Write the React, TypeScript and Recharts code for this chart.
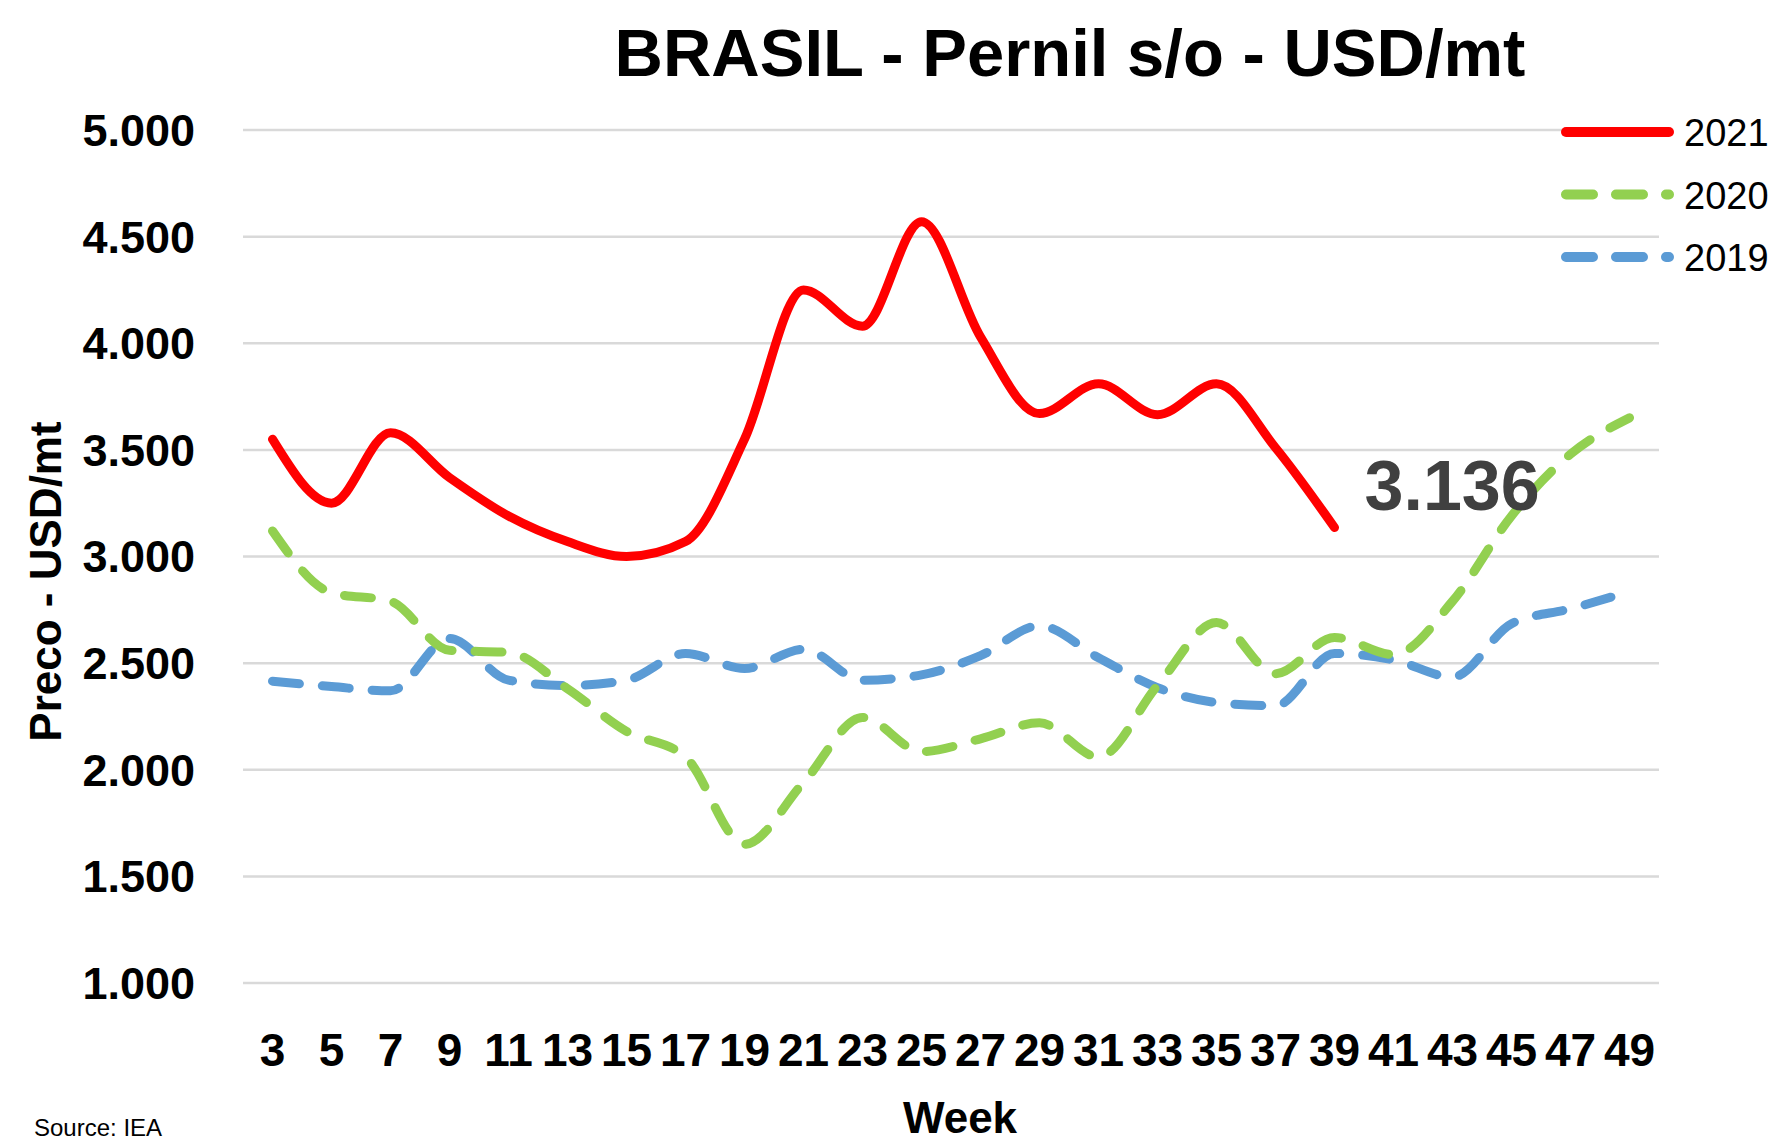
import { LineChart, Line, XAxis, YAxis, CartesianGrid, Label } from 'recharts'

const weeks = ['3', '5', '7', '9', '11', '13', '15', '17', '19', '21', '23', '25', '27', '29', '31', '33', '35', '37', '39', '41', '43', '45', '47', '49']

const y2021 = [3550, 3250, 3580, 3370, 3190, 3070, 3000, 3070, 3550, 4250, 4080, 4570, 4030, 3670, 3810, 3665, 3810, 3510, 3136]
const y2020 = [3120, 2830, 2790, 2560, 2550, 2380, 2180, 2060, 1650, 1940, 2245, 2085, 2145, 2220, 2060, 2395, 2690, 2450, 2620, 2540, 2790, 3190, 3480, 3650]
const y2019 = [2415, 2390, 2370, 2615, 2420, 2395, 2420, 2545, 2475, 2565, 2420, 2445, 2535, 2675, 2525, 2385, 2315, 2300, 2545, 2515, 2435, 2685, 2755, 2835]

const yTicks = [1000, 1500, 2000, 2500, 3000, 3500, 4000, 4500, 5000]

const series = [
    { key: 'y2021', name: '2021', color: '#FF0000', dash: undefined },
    { key: 'y2020', name: '2020', color: '#92D050', dash: '27 23' },
    { key: 'y2019', name: '2019', color: '#5B9BD5', dash: '27 23' },
]

const FONT = "'Liberation Sans', Arial, sans-serif"

const data = weeks.map((w, i) => ({
    week: w,
    y2021: i < y2021.length ? y2021[i] : null,
    y2020: y2020[i],
    y2019: y2019[i],
}))

const fmt = (v: number) => `${Math.floor(v / 1000)}.${String(v % 1000).padStart(3, '0')}`

// last value of 2021 written next to the end of the line
const lastLabel = (props: any) => {
    if (props.index !== y2021.length - 1) return null
    return (
        <text x={props.x + 30} y={props.y - 17} fontFamily={FONT} fontWeight="bold" fontSize={70} fill="#404040">
            {fmt(props.value)}
        </text>
    )
}

export default function App() {
    return (
        <div style={{ position: 'absolute', left: 0, top: 0, width: 1776, height: 1139, overflow: 'hidden', background: '#fff' }}>
            <LineChart
                width={1776}
                height={1139}
                data={data}
                margin={{ top: 130, right: 117, bottom: 56, left: 0 }}
            >
                <CartesianGrid vertical={false} stroke="#D9D9D9" strokeWidth={2.5} />
                <XAxis
                    dataKey="week"
                    interval={0}
                    height={100}
                    padding={{ left: 29.5, right: 29.5 }}
                    axisLine={false}
                    tickLine={false}
                    tickSize={0}
                    tickMargin={50}
                    tick={{ fill: '#000', fontSize: 46, fontWeight: 'bold', fontFamily: FONT }}
                >
                    <Label
                        content={(p: any) => (
                            <text
                                x={p.viewBox.x + p.viewBox.width / 2 + 9}
                                y={1133}
                                textAnchor="middle"
                                fontFamily={FONT}
                                fontWeight="bold"
                                fontSize={44}
                                fill="#000"
                            >
                                Week
                            </text>
                        )}
                    />
                </XAxis>
                <YAxis
                    width={243}
                    domain={[1000, 5000]}
                    ticks={yTicks}
                    axisLine={false}
                    tickLine={false}
                    tickSize={0}
                    tickMargin={48}
                    tickFormatter={fmt}
                    tick={{ fill: '#000', fontSize: 45, fontWeight: 'bold', fontFamily: FONT }}
                >
                    <Label
                        content={(p: any) => {
                            const cx = 45
                            const cy = p.viewBox.y + p.viewBox.height / 2 + 25
                            return (
                                <text
                                    x={cx}
                                    y={cy}
                                    transform={`rotate(-90 ${cx} ${cy})`}
                                    textAnchor="middle"
                                    dominantBaseline="central"
                                    fontFamily={FONT}
                                    fontWeight="bold"
                                    fontSize={44}
                                    fill="#000"
                                >
                                    Preco - USD/mt
                                </text>
                            )
                        }}
                    />
                </YAxis>
                <Line
                    type="monotone"
                    dataKey="y2019"
                    name="2019"
                    stroke="#5B9BD5"
                    strokeWidth={9}
                    strokeDasharray="27 23"
                    strokeLinecap="round"
                    dot={false}
                    isAnimationActive={false}
                />
                <Line
                    type="monotone"
                    dataKey="y2020"
                    name="2020"
                    stroke="#92D050"
                    strokeWidth={9}
                    strokeDasharray="27 23"
                    strokeLinecap="round"
                    dot={false}
                    isAnimationActive={false}
                />
                <Line
                    type="monotone"
                    dataKey="y2021"
                    name="2021"
                    stroke="#FF0000"
                    strokeWidth={9}
                    strokeLinecap="round"
                    dot={false}
                    label={lastLabel}
                    isAnimationActive={false}
                />
            </LineChart>
            <svg width={1776} height={1139} style={{ position: 'absolute', left: 0, top: 0, pointerEvents: 'none' }}>
                <text x={1070} y={76} textAnchor="middle" fontFamily={FONT} fontWeight="bold" fontSize={67} fill="#000">
                    BRASIL - Pernil s/o - USD/mt
                </text>
                {series.map((s, i) => {
                    const y = 132 + i * 62.5
                    return (
                        <g key={s.key}>
                            <line x1={1566} x2={1669} y1={y} y2={y} stroke={s.color} strokeWidth={10} strokeLinecap="round" strokeDasharray={s.dash} />
                            <text x={1684} y={y + 14} fontFamily={FONT} fontSize={38} fill="#000">
                                {s.name}
                            </text>
                        </g>
                    )
                })}
                <text x={34} y={1136} fontFamily={FONT} fontSize={24} fill="#000">
                    Source: IEA
                </text>
            </svg>
        </div>
    )
}
